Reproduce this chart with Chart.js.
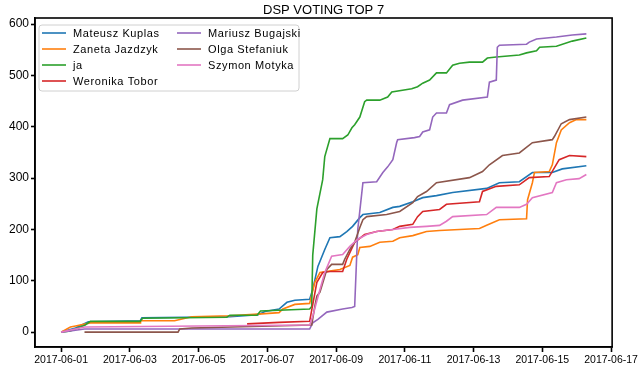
<!DOCTYPE html>
<html>
<head>
<meta charset="utf-8">
<script src="https://cdn.jsdelivr.net/npm/chart.js@4/dist/chart.umd.min.js"></script>
<style>
  html, body { margin: 0; padding: 0; background: #fff; }
  #wrap { width: 640px; height: 373px; }
</style>
</head>
<body>
<div id="wrap"><canvas id="chart" width="640" height="373"></canvas></div>
<script>
// Tage seit 2017-06-01 und Stimmen
const xTickDays = [0, 2, 4, 6, 8, 10, 12, 14, 16];
const xTickLabels = ['2017-06-01', '2017-06-03', '2017-06-05', '2017-06-07', '2017-06-09',
                     '2017-06-11', '2017-06-13', '2017-06-15', '2017-06-17'];
const yTicks = [0, 100, 200, 300, 400, 500, 600];

const seriesNames = ['Mateusz Kuplas', 'Zaneta Jazdzyk', 'ja', 'Weronika Tobor',
                     'Mariusz Bugajski', 'Olga Stefaniuk', 'Szymon Motyka'];
const seriesColors = ['#1f77b4', '#ff7f0e', '#2ca02c', '#d62728', '#9467bd', '#8c564b', '#e377c2'];

const mateusz = [[0,0],[0.42,8],[0.79,20],[2.30,22],[2.35,28],[4.91,30],[5.73,34],[5.93,40],[6.34,45],
  [6.57,58],[6.80,62],[7.23,64],[7.32,83],[7.47,128],[7.67,161],[7.82,184],[8.11,186],[8.31,196],
  [8.48,206],[8.69,223],[8.78,229],[9.27,233],[9.65,243],[9.85,245],[10.23,254],[10.52,262],
  [10.92,266],[11.39,272],[12.38,280],[12.75,291],[13.33,293],[13.71,311],[14.29,311],[14.58,318],[15.28,324]];
const zaneta = [[0,0],[0.27,10],[0.42,12],[0.85,18],[2.30,18],[2.31,22],[3.30,22],[3.80,30],[4.90,32],
  [5.73,35],[6.34,38],[6.45,45],[6.80,54],[7.23,56],[7.38,97],[7.53,116],[8.11,122],[8.40,130],
  [8.48,146],[8.63,151],[8.69,165],[8.98,167],[9.27,175],[9.65,177],[9.85,184],[10.23,188],
  [10.63,196],[11.01,198],[12.17,202],[12.38,208],[12.75,219],[13.54,221],[13.57,258],[13.71,291],
  [13.77,311],[14.20,313],[14.29,326],[14.41,369],[14.55,394],[14.79,408],[14.99,414],[15.28,414]];
const ja = [[0,0],[0.27,2],[0.56,10],[0.70,14],[0.85,21],[2.30,21],[2.37,27],[4.82,29],[4.91,33],
  [5.70,33],[5.80,41],[7.23,45],[7.29,50],[7.32,150],[7.44,240],[7.61,297],[7.67,342],[7.82,377],
  [8.19,377],[8.34,384],[8.46,398],[8.54,404],[8.69,419],[8.83,449],[8.89,452],[9.27,452],[9.50,458],
  [9.62,468],[10.20,474],[10.37,478],[10.52,485],[10.72,491],[10.92,505],[11.21,505],[11.39,520],
  [11.59,524],[11.88,526],[12.26,526],[12.40,534],[12.66,536],[13.33,540],[13.54,544],[13.83,548],
  [13.92,555],[14.41,557],[14.87,567],[15.28,573]];
const weronika = [[5.41,16],[6.34,19],[7.23,21],[7.44,97],[7.61,116],[7.82,118],[8.19,118],[8.31,142],
  [8.54,175],[8.83,190],[9.18,196],[9.65,200],[9.85,206],[10.23,210],[10.37,225],[10.52,235],
  [11.01,239],[11.21,249],[12.17,254],[12.26,274],[12.66,284],[13.33,287],[13.62,301],[14.20,303],
  [14.49,336],[14.79,344],[15.28,342]];
const mariusz = [[0,0],[0.68,6],[7.23,6],[7.32,18],[7.47,25],[7.73,39],[8.19,45],[8.46,48],[8.54,50],
  [8.63,200],[8.78,291],[9.18,293],[9.36,311],[9.50,322],[9.65,336],[9.76,369],[9.79,375],[10.28,379],
  [10.43,381],[10.52,390],[10.72,394],[10.81,419],[10.92,427],[11.21,427],[11.30,443],[11.68,452],
  [12.40,458],[12.46,487],[12.66,491],[12.69,555],[12.75,559],[13.54,561],[13.62,565],[13.83,571],
  [14.12,573],[14.41,575],[14.87,579],[15.28,581]];
const olga = [[0.68,0],[3.40,0],[3.45,6],[3.80,8],[7.29,14],[7.38,50],[7.44,70],[7.53,78],[7.73,122],
  [7.87,132],[8.19,132],[8.25,142],[8.40,161],[8.54,175],[8.69,204],[8.78,219],[8.89,225],[9.47,229],
  [9.85,235],[10.23,252],[10.37,264],[10.63,274],[10.92,291],[11.88,301],[12.26,313],[12.46,326],
  [12.84,344],[13.33,349],[13.71,369],[14.29,375],[14.35,381],[14.55,406],[14.79,414],[15.28,419]];
const szymon = [[0,0],[0.27,4],[0.68,10],[4.00,12],[7.23,14],[7.32,31],[7.53,83],[7.67,116],[7.87,148],
  [8.19,151],[8.40,167],[8.63,181],[8.89,190],[9.18,196],[9.65,200],[10.14,204],[10.63,206],
  [11.01,208],[11.21,216],[11.39,225],[12.38,229],[12.66,243],[13.33,243],[13.54,249],[13.71,262],
  [14.29,272],[14.41,291],[14.70,297],[15.07,299],[15.28,307]];

const seriesData = [mateusz, zaneta, ja, weronika, mariusz, olga, szymon];

const FONT = '"Liberation Sans", "DejaVu Sans", sans-serif';

// Rahmen, Titel und Legende selbst zeichnen (xkcd-Optik)
const decorPlugin = {
  id: 'decor',
  afterDraw(chart) {
    const ctx = chart.ctx;
    const a = chart.chartArea;
    ctx.save();
    ctx.strokeStyle = '#000';
    ctx.lineWidth = 1.6;
    ctx.strokeRect(a.left, a.top, a.right - a.left, a.bottom - a.top);

    ctx.fillStyle = '#000';
    ctx.font = '13px ' + FONT;
    ctx.textAlign = 'center';
    ctx.textBaseline = 'middle';
    ctx.fillText('DSP VOTING TOP 7', (a.left + a.right) / 2, 10);

    // Legende
    const bx = 39, by = 25, bw = 260, bh = 66;
    ctx.beginPath();
    ctx.roundRect(bx, by, bw, bh, 3);
    ctx.fillStyle = 'rgba(255,255,255,0.85)';
    ctx.fill();
    ctx.strokeStyle = '#d0d0d0';
    ctx.lineWidth = 1;
    ctx.stroke();

    ctx.font = '11px ' + FONT;
    ctx.textAlign = 'left';
    ctx.letterSpacing = '0.6px';
    chart.data.datasets.forEach((ds, i) => {
      const col = i < 4 ? 0 : 1;
      const row = i < 4 ? i : i - 4;
      const lx = col === 0 ? 42 : 177;
      const ly = 33 + row * 16;
      ctx.strokeStyle = ds.borderColor;
      ctx.lineWidth = 1.6;
      ctx.beginPath();
      ctx.moveTo(lx, ly);
      ctx.lineTo(lx + 24, ly);
      ctx.stroke();
      ctx.fillStyle = '#000';
      ctx.fillText(ds.label, lx + 31, ly + 1);
    });
    ctx.restore();
  }
};

const ctx = document.getElementById('chart');
new Chart(ctx, {
  type: 'line',
  data: {
    datasets: seriesData.map((pts, i) => ({
      label: seriesNames[i],
      data: pts.map(p => ({ x: p[0], y: p[1] })),
      borderColor: seriesColors[i],
      backgroundColor: seriesColors[i],
      borderWidth: 1.6,
      pointRadius: 0,
      tension: 0,
      fill: false,
      order: seriesData.length - 1 - i
    }))
  },
  options: {
    responsive: false,
    animation: false,
    layout: { padding: { top: 18, right: 27, left: 0, bottom: 0 } },
    plugins: {
      legend: { display: false },
      title: { display: false },
      tooltip: { enabled: false }
    },
    scales: {
      x: {
        type: 'linear',
        min: -0.76,
        max: 16.03,
        afterBuildTicks: s => { s.ticks = xTickDays.map(v => ({ value: v })); },
        afterFit: s => { s.height = 26; },
        grid: { drawOnChartArea: false, drawTicks: true, tickLength: 5, tickWidth: 1.6, tickColor: '#000' },
        border: { display: true, color: '#000', width: 1.6 },
        ticks: {
          color: '#000',
          padding: 2,
          maxRotation: 0,
          autoSkip: false,
          font: { family: FONT, size: 10.5 },
          callback: v => xTickLabels[xTickDays.indexOf(v)]
        }
      },
      y: {
        type: 'linear',
        min: -29,
        max: 612,
        afterBuildTicks: s => { s.ticks = yTicks.map(v => ({ value: v })); },
        afterFit: s => { s.width = 35; },
        grid: { drawOnChartArea: false, drawTicks: true, tickLength: 4, tickWidth: 1.6, tickColor: '#000' },
        border: { display: true, color: '#000', width: 1.6 },
        ticks: {
          color: '#000',
          padding: 2,
          font: { family: FONT, size: 12 },
          callback: v => String(v)
        }
      }
    }
  },
  plugins: [decorPlugin]
});
</script>
</body>
</html>
